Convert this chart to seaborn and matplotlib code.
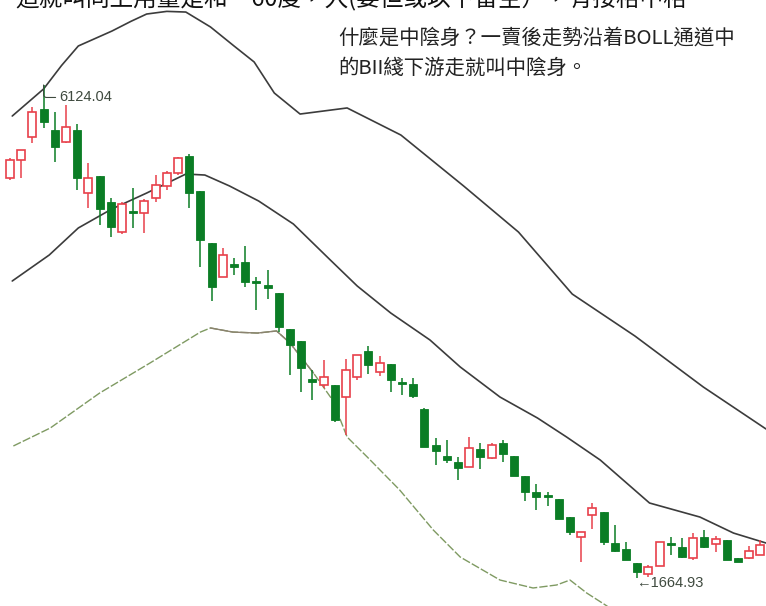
import numpy as np
import pandas as pd
import seaborn as sns
import matplotlib.pyplot as plt

sns.set_style("white")
plt.rcParams['font.family'] = ['Noto Sans CJK TC', 'DejaVu Sans']

# daily candles
opens = [5282, 5445, 5653, 5907, 5716, 5608, 5716, 5146, 5300, 5065,
         4793, 4983, 4965, 5101, 5210, 5327, 5481, 5164, 4694, 4386,
         4504, 4522, 4350, 4314, 4241, 3916, 3807, 3463, 3409, 3409,
         3300, 3481, 3716, 3526, 3599, 3436, 3418, 3192, 2866, 2766,
         2712, 2667, 2830, 2748, 2884, 2766, 2585, 2440, 2413, 2377,
         2214, 2033, 2232, 2259, 1979, 1925, 1798, 1698, 1771, 1979,
         1943, 1843, 2033, 1970, 2006, 1843, 1843, 1870]
highs = [5463, 5540, 5925, 6124.04, 5879, 5943, 5771, 5418, 5300, 5101,
         5065, 5192, 5092, 5309, 5345, 5472, 5499, 5164, 4694, 4649,
         4558, 4667, 4386, 4449, 4241, 3916, 3807, 3544, 3635, 3409,
         3644, 3680, 3762, 3671, 3599, 3472, 3472, 3201, 2929, 2911,
         2757, 2938, 2884, 2884, 2911, 2766, 2585, 2513, 2440, 2377,
         2214, 2078, 2341, 2259, 2142, 1988, 1798, 1780, 1988, 2033,
         2024, 2069, 2096, 2042, 2006, 1843, 1952, 2006]
lows = [5264, 5282, 5599, 5735, 5427, 5599, 5174, 5011, 4857, 4748,
        4775, 4830, 4784, 5065, 5174, 5309, 5011, 4477, 4169, 4386,
        4404, 4296, 4087, 4187, 3888, 3499, 3345, 3273, 3382, 3074,
        2956, 3454, 3508, 3490, 3345, 3318, 3291, 2848, 2685, 2703,
        2549, 2667, 2649, 2739, 2712, 2585, 2359, 2277, 2314, 2196,
        2051, 1807, 2106, 1961, 1897, 1825, 1664.93, 1671, 1771, 1870,
        1843, 1825, 1934, 1897, 1825, 1807, 1834, 1870]
closes = [5445, 5535, 5879, 5789, 5563, 5744, 5282, 5282, 5002, 4839,
          5047, 4965, 5074, 5219, 5327, 5463, 5146, 4721, 4296, 4585,
          4477, 4341, 4332, 4287, 3934, 3771, 3563, 3436, 3481, 3092,
          3544, 3680, 3590, 3608, 3454, 3418, 3309, 2848, 2811, 2730,
          2658, 2839, 2757, 2866, 2784, 2585, 2440, 2395, 2395, 2196,
          2078, 2078, 2296, 1988, 1906, 1825, 1716, 1762, 1988, 1961,
          1852, 2024, 1943, 2015, 1825, 1807, 1906, 1961]

# BOLL bands, sampled where read (bar index, value)
upper_x = [0.2, 3.0, 4.6, 6.1, 9.1, 10.8, 12.2, 14.0, 15.7, 17.9, 20.0, 21.8,
           23.6, 25.9, 30.1, 34.9, 40.5, 45.4, 50.2, 55.8, 61.9, 67.5]
upper_y = [5843, 6088, 6300, 6477, 6612, 6700, 6766, 6790, 6784, 6649, 6477,
           6332, 6051, 5861, 5916, 5671, 5210, 4793, 4232, 3852, 3391, 3011]
mid_x = [0.2, 3.5, 6.1, 9.1, 12.2, 15.7, 17.4, 19.6, 22.2, 25.3, 28.6, 31.0,
         34.0, 37.5, 40.2, 43.75, 47.1, 49.7, 52.7, 57.1, 61.6, 64.6, 67.5]
mid_y = [4350, 4585, 4830, 5002, 5146, 5318, 5309, 5210, 5074, 4866, 4540, 4305,
         4060, 3816, 3572, 3300, 3110, 2938, 2730, 2341, 2214, 2069, 1979]
lower_x = [0.3, 3.6, 8.0, 12.5, 17.0, 17.9, 19.9, 22.1, 23.8, 25.0, 27.1,
           28.8, 30.1, 31.9, 34.8, 37.8, 40.2, 43.75, 46.7, 48.8, 50.0, 51.5,
           53.3, 54.5]
lower_y = [2857, 3020, 3336, 3608, 3888, 3925, 3888, 3879, 3898, 3789, 3517,
           3273, 2938, 2757, 2458, 2096, 1852, 1644, 1572, 1599, 1644, 1526,
           1409, 1300]

RED = '#e8404a'
GREEN = '#0b7d25'

df = pd.DataFrame({'open': opens, 'high': highs, 'low': lows, 'close': closes})
df['idx'] = np.arange(len(df))
up = df[df['close'] >= df['open']]
dn = df[df['close'] < df['open']]

fig = plt.figure(figsize=(7.66, 6.06), dpi=100)
ax = fig.add_axes([0, 0, 1, 1])

# bands
sns.lineplot(x=upper_x, y=upper_y, ax=ax, color='#3c3c3c', lw=1.2)
sns.lineplot(x=mid_x, y=mid_y, ax=ax, color='#3c3c3c', lw=1.2)
sns.lineplot(x=lower_x, y=lower_y, ax=ax, color='#7f9a62', lw=1.0,
             linestyle=(0, (6, 1.5)))
ax.plot(lower_x[5:11], lower_y[5:11], color='#8c8270', lw=1.0, zorder=2)

# wicks
ax.vlines(up['idx'], up['low'], up['high'], color=RED, lw=1.1, zorder=2)
ax.vlines(dn['idx'], dn['low'], dn['high'], color=GREEN, lw=1.1, zorder=2)

# bodies
w = 0.72
ax.bar(up['idx'], (up['close'] - up['open']).clip(lower=15), bottom=up['open'],
       width=w, facecolor='white', edgecolor=RED, lw=1.2, zorder=3)
ax.bar(dn['idx'], (dn['open'] - dn['close']).clip(lower=15), bottom=dn['close'],
       width=w, color=GREEN, edgecolor=GREEN, lw=0.6, zorder=3)

# extremes
hi_i = int(np.argmax(highs))
lo_i = int(np.argmin(lows))
ax.annotate(f'{highs[hi_i]:.2f}', xy=(hi_i, highs[hi_i]), xytext=(11, -9),
            textcoords='offset points', ha='left', va='center',
            fontsize=10.5, color='#3f4a3f', family=['Liberation Sans', 'DejaVu Sans'],
            arrowprops=dict(arrowstyle='-', color='#3f4a3f', lw=0.8,
                            shrinkA=0, shrinkB=0,
                            connectionstyle='angle,angleA=0,angleB=90,rad=3'))
ax.annotate(f'←{lows[lo_i]:.2f}', xy=(lo_i, lows[lo_i]), xytext=(-1, -4),
            textcoords='offset points', ha='left', va='center',
            fontsize=10.5, color='#3f4a3f', family=['Liberation Sans', 'DejaVu Sans'])

ax.set_xlim(-0.893, 67.5)
ax.set_ylim(1409, 6893)
ax.axis('off')

# commentary
fig.text(0.441, 0.937, '什麼是中陰身？一賣後走勢沿着BOLL通道中',
         fontsize=14.7, color='#222222', va='center', ha='left')
fig.text(0.441, 0.888, '的BII綫下游走就叫中陰身。',
         fontsize=14.7, color='#222222', va='center', ha='left')
fig.text(0.02, 1.003, '這就叫同上用量是和一60度，入(要但或以下留空），有接格中格',
         fontsize=17, color='#111111', va='center', ha='left')

fig.savefig('out.png', dpi=100, facecolor='white')
